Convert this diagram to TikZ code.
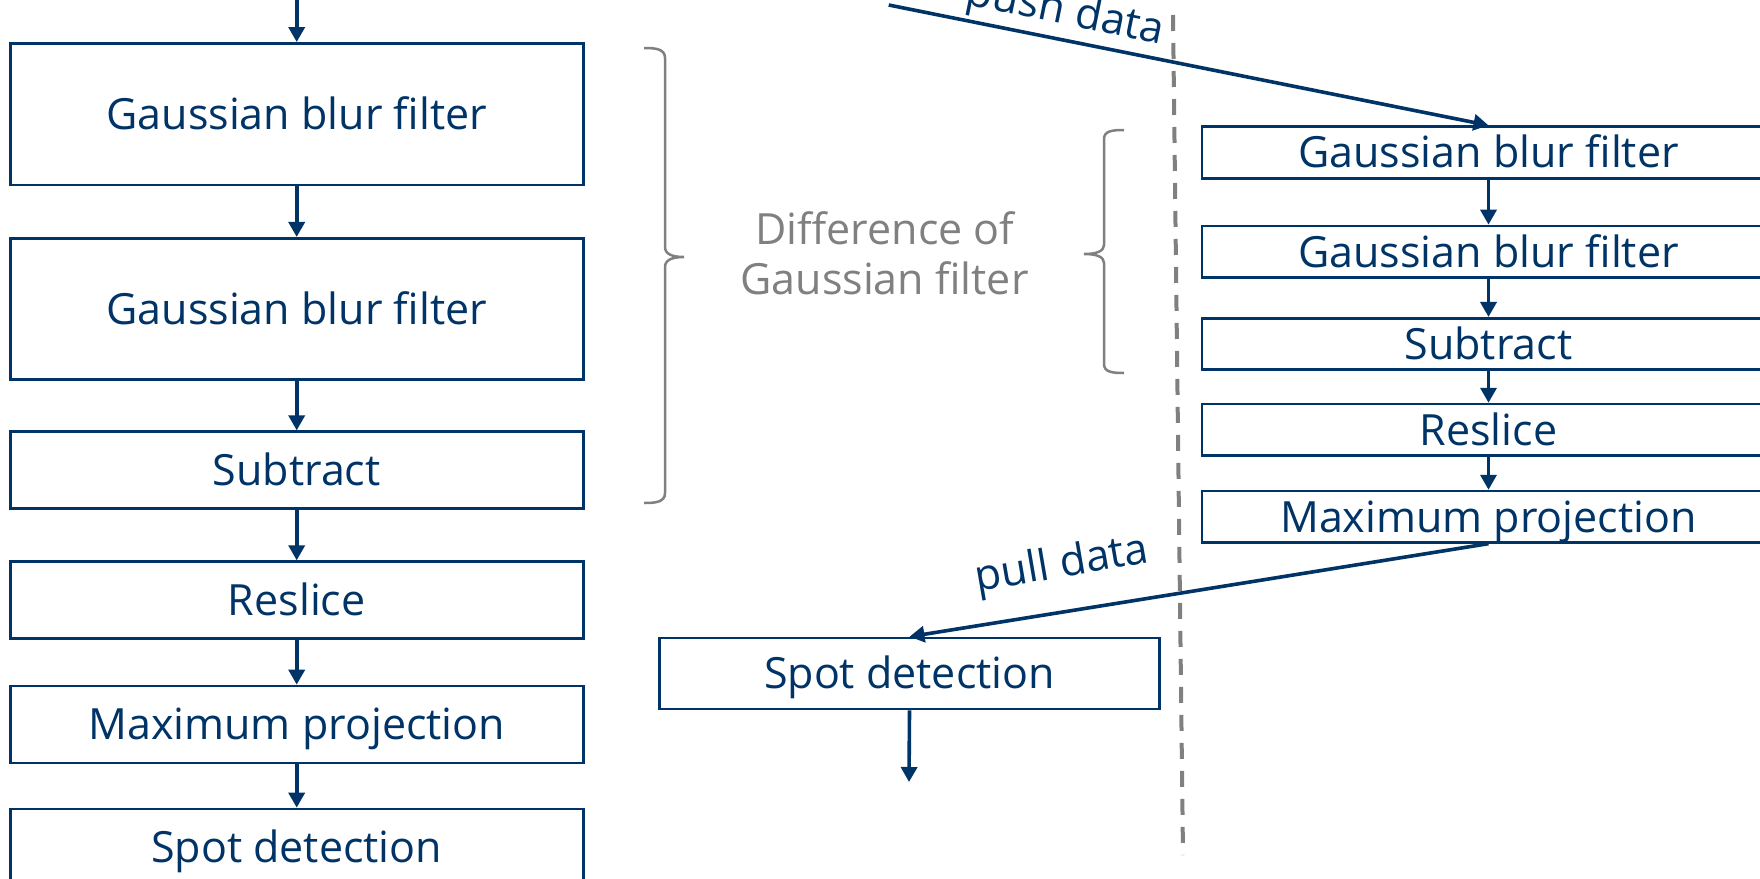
\documentclass[tikz,border=0pt]{standalone}
\usepackage{fontspec}
\setmainfont{Open Sans}
\usetikzlibrary{arrows.meta}
\definecolor{navy}{HTML}{003366}
\definecolor{midgray}{HTML}{808080}

\begin{document}
\begin{tikzpicture}[x=0.5pt,y=-0.5pt,
  txt/.style={font=\fontsize{21.5}{25}\selectfont},
  box/.style={txt, draw=navy, line width=1.35pt, text=navy, inner sep=0pt,
    minimum width=286.5pt, text height=15.35pt, text depth=0pt},
  flow/.style={draw=navy, line width=1.8pt, -{Triangle[length=7.5pt,width=8pt]}},
  lbl/.style={txt, text=navy, anchor=base, inner sep=0pt},
  note/.style={txt, text=midgray, anchor=base, inner sep=0pt},
  brace/.style={draw=midgray, line width=1.25pt},
  divider/.style={draw=midgray, line width=2pt, dash pattern=on 8pt off 6pt}
]
\useasboundingbox (0,0) rectangle (1760,878);
\clip (0,0) rectangle (1760,878);

% divider between the two execution models
\draw[divider] (1173,15) -- (1183,855);

% left column: sequential pipeline
\coordinate (lin) at (296.7,0);
\node[box, minimum height=70.8pt] (l1) at (296.7,114.2) {Gaussian blur filter};
\node[box, minimum height=70.5pt] (l2) at (296.7,308.8) {Gaussian blur filter};
\node[box, minimum height=38.3pt] (l3) at (296.7,470)   {Subtract};
\node[box, minimum height=38.3pt] (l4) at (296.7,600)   {Reslice};
\node[box, minimum height=38.5pt] (l5) at (296.7,724.5) {Maximum projection};
\node[box, minimum height=38.5pt] (l6) at (296.7,847.5) {Spot detection};

\draw[flow] (lin) -- (l1);
\draw[flow] (l1) -- (l2);
\draw[flow] (l2) -- (l3);
\draw[flow] (l3) -- (l4);
\draw[flow] (l4) -- (l5);
\draw[flow] (l5) -- (l6);

% braces and group label
\draw[brace] (644,48) .. controls (656,48) and (665,49) .. (665,58)
  -- (665,247) .. controls (665,254) and (672,257) .. (684,257)
  .. controls (672,257) and (665,260) .. (665,267)
  -- (665,493) .. controls (665,502) and (656,503) .. (644,503);
\draw[brace] (1124,130) .. controls (1112,130) and (1104,131) .. (1104,139)
  -- (1104,245) .. controls (1104,251) and (1097,254) .. (1084,254)
  .. controls (1097,254) and (1104,257) .. (1104,263)
  -- (1104,364) .. controls (1104,372) and (1112,373) .. (1124,373);
\node[note] (dog1) at (885,244) {Difference of};
\node[note] (dog2) at (884.5,294) {Gaussian filter};

% right column: streamed pipeline
\node[box, minimum height=25.8pt] (r1) at (1488.5,152.5) {Gaussian blur filter};
\node[box, minimum height=25.8pt] (r2) at (1488.5,251.8) {Gaussian blur filter};
\node[box, minimum height=25.5pt] (r3) at (1488.5,343.8) {Subtract};
\node[box, minimum height=25.6pt] (r4) at (1488.5,429.7) {Reslice};
\node[box, minimum height=25.6pt] (r5) at (1488.5,516.7) {Maximum projection};

\draw[flow] (r1) -- (r2);
\draw[flow] (r2) -- (r3);
\draw[flow] (r3) -- (r4);
\draw[flow] (r4) -- (r5);

% middle: detection step fed by the stream
\node[box, minimum width=250pt, minimum height=35.5pt] (m1) at (909.5,673.5) {Spot detection};
\coordinate (mout) at (909,782);
\draw[flow] (m1.south) -- (mout);

\coordinate (pin) at (888.7,5);
\draw[flow] (pin) -- (r1.north);
\node[lbl, rotate=-11.5] (push) at (1063,24) {push data};

\draw[flow] (r5.south) -- (m1.north);
\node[lbl, rotate=9.7] (pull) at (1064,577) {pull data};
\end{tikzpicture}
\end{document}
